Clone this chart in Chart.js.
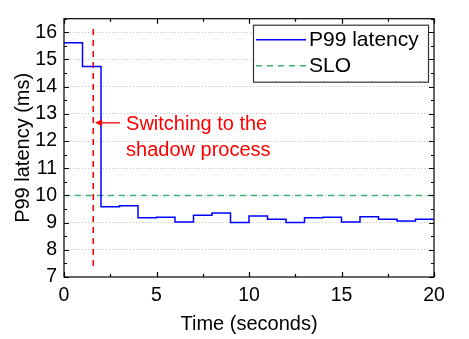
<!DOCTYPE html>
<html>
<head>
<meta charset="utf-8">
<script src="https://cdn.jsdelivr.net/npm/chart.js@4.4.0/dist/chart.umd.min.js"></script>
<style>
    html, body { margin: 0; padding: 0; background: #fff; }
    #wrap { width: 469px; height: 339px; }
</style>
</head>
<body>
<div id="wrap"><canvas id="latency-chart" width="469" height="339"></canvas></div>
<script>
// Chart values
const timeSec = [0, 1, 2, 3, 4, 5, 6, 7, 8, 9, 10, 11, 12, 13, 14, 15, 16, 17, 18, 19, 20];
const p99Latency = [15.62, 14.74, 9.58, 9.62, 9.18, 9.2, 9.02, 9.27, 9.35, 9.0, 9.24, 9.12, 9.0, 9.18, 9.2, 9.02, 9.22, 9.12, 9.06, 9.12, 9.12];
const sloTime = [0, 20];
const sloLatency = [10, 10];
const switchTime = [1.58, 1.58];
const switchSpan = [7.4, 16.3];
const noteArrow = { fromX: 3.03, toX: 1.68, y: 12.67 };
const noteLines = ['Switching to the', 'shadow process'];
const legendLabels = ['P99 latency', 'SLO'];

const FONT = '"Liberation Sans", Arial, sans-serif';

function toPoints(xs, ys) {
    return xs.map(function(x, i) { return { x: x, y: ys[i] }; });
}

// Frame with inward ticks on all four sides
const framePlugin = {
    id: 'frame',
    afterDraw: function(chart) {
        const ctx = chart.ctx;
        const area = chart.chartArea;
        const xs = chart.scales.x;
        const ys = chart.scales.y;
        ctx.save();
        ctx.strokeStyle = '#000';
        ctx.lineWidth = 1.2;
        ctx.beginPath();
        for (let v = 7; v <= 16.5; v += 0.5) {
            const py = Math.round(ys.getPixelForValue(v)) + 0.5;
            const len = Number.isInteger(v) ? 5 : 3;
            ctx.moveTo(area.left, py); ctx.lineTo(area.left + len, py);
            ctx.moveTo(area.right, py); ctx.lineTo(area.right - len, py);
        }
        for (let v = 0; v <= 20; v += 2.5) {
            const px = Math.round(xs.getPixelForValue(v)) + 0.5;
            const len = v % 5 === 0 ? 5 : 3;
            ctx.moveTo(px, area.bottom); ctx.lineTo(px, area.bottom - len);
            ctx.moveTo(px, area.top); ctx.lineTo(px, area.top + len);
        }
        ctx.stroke();
        ctx.strokeRect(area.left, area.top, area.right - area.left, area.bottom - area.top);
        ctx.restore();
    }
};

// Annotation arrow + text, and the boxed legend
const notePlugin = {
    id: 'note',
    afterDatasetsDraw: function(chart) {
        const ctx = chart.ctx;
        const xs = chart.scales.x;
        const ys = chart.scales.y;
        const area = chart.chartArea;
        const x0 = xs.getPixelForValue(noteArrow.fromX);
        const x1 = xs.getPixelForValue(noteArrow.toX);
        const y = ys.getPixelForValue(noteArrow.y);

        ctx.save();
        ctx.strokeStyle = '#ff0000';
        ctx.fillStyle = '#ff0000';
        ctx.lineWidth = 1.3;
        ctx.beginPath();
        ctx.moveTo(x0, y);
        ctx.lineTo(x1 + 5, y);
        ctx.stroke();
        ctx.beginPath();
        ctx.moveTo(x1, y);
        ctx.lineTo(x1 + 7, y - 3.5);
        ctx.lineTo(x1 + 7, y + 3.5);
        ctx.closePath();
        ctx.fill();

        ctx.font = '20px ' + FONT;
        ctx.textBaseline = 'alphabetic';
        ctx.textAlign = 'left';
        ctx.fillText(noteLines[0], x0 + 6, y + 7);
        ctx.fillText(noteLines[1], x0 + 6, y + 33);

        // legend
        const bw = 175, bh = 57;
        const bx = area.right - 6 - bw;
        const by = area.top + 6;
        ctx.fillStyle = '#fff';
        ctx.fillRect(bx, by, bw, bh);
        ctx.strokeStyle = '#333';
        ctx.lineWidth = 1.2;
        ctx.strokeRect(bx + 0.5, by + 0.5, bw, bh);

        const rows = [by + 15, by + 41];
        chart.data.datasets.slice(0, 2).forEach(function(ds, i) {
            ctx.strokeStyle = ds.borderColor;
            ctx.lineWidth = ds.borderWidth;
            ctx.setLineDash(ds.borderDash || []);
            ctx.beginPath();
            ctx.moveTo(bx + 3, rows[i]);
            ctx.lineTo(bx + 53, rows[i]);
            ctx.stroke();
            ctx.setLineDash([]);
            ctx.fillStyle = '#000';
            ctx.font = '21px ' + FONT;
            ctx.textBaseline = 'middle';
            ctx.fillText(legendLabels[i], bx + 56, rows[i] + 1);
        });
        ctx.restore();
    }
};

const ctx = document.getElementById('latency-chart').getContext('2d');
const latencyChart = new Chart(ctx, {
    type: 'line',
    data: {
        datasets: [{
            label: legendLabels[0],
            data: toPoints(timeSec, p99Latency),
            borderColor: '#0000ff',
            borderWidth: 1.5,
            stepped: 'before',
            pointRadius: 0,
            fill: false
        }, {
            label: legendLabels[1],
            data: toPoints(sloTime, sloLatency),
            borderColor: '#3cb371',
            borderWidth: 1.5,
            borderDash: [6, 5],
            pointRadius: 0,
            fill: false
        }, {
            label: 'switch',
            data: toPoints(switchTime, switchSpan),
            borderColor: '#ff0000',
            borderWidth: 1.5,
            borderDash: [6, 5],
            pointRadius: 0,
            fill: false
        }]
    },
    options: {
        responsive: false,
        animation: false,
        devicePixelRatio: 1,
        layout: { padding: { top: 6, right: 35, left: 0, bottom: 0 } },
        plugins: {
            legend: { display: false },
            tooltip: { enabled: false }
        },
        scales: {
            x: {
                type: 'linear',
                min: 0,
                max: 20,
                afterFit: function(scale) { scale.height = 62; },
                grid: { display: false, drawTicks: false },
                border: { display: false },
                ticks: {
                    stepSize: 2.5,
                    autoSkip: false,
                    maxRotation: 0,
                    padding: 7,
                    color: '#000',
                    font: { family: FONT, size: 19.5 },
                    callback: function(v) { return v % 5 === 0 ? v : ''; }
                },
                title: {
                    display: true,
                    text: 'Time (seconds)',
                    color: '#000',
                    font: { family: FONT, size: 20 },
                    padding: { top: 0, bottom: 3 }
                }
            },
            y: {
                min: 7,
                max: 16.5,
                afterFit: function(scale) { scale.width = 64; },
                grid: {
                    drawTicks: false,
                    lineWidth: 1,
                    color: function(c) {
                        const v = c.tick && c.tick.value;
                        return (Number.isInteger(v) && v > 7) ? '#c4c4c4' : 'rgba(0,0,0,0)';
                    }
                },
                border: { display: false, dash: [1, 2] },
                ticks: {
                    stepSize: 0.5,
                    autoSkip: false,
                    padding: 7,
                    color: '#000',
                    font: { family: FONT, size: 19.5 },
                    callback: function(v) { return Number.isInteger(v) ? v : ''; }
                },
                title: {
                    display: true,
                    text: 'P99 latency (ms)',
                    color: '#000',
                    font: { family: FONT, size: 20 },
                    padding: { top: 11, bottom: 0 }
                }
            }
        }
    },
    plugins: [framePlugin, notePlugin]
});
</script>
</body>
</html>
